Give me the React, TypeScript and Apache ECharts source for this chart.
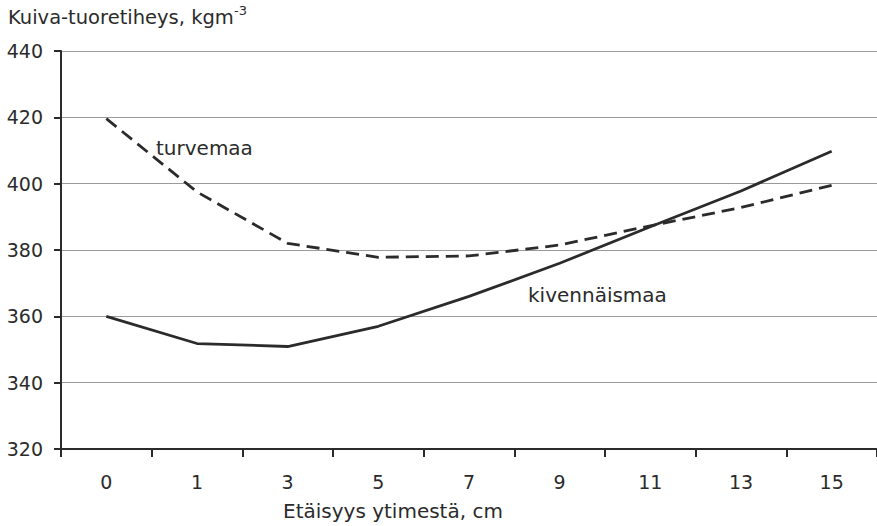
import React, { useEffect, useRef } from "react";
import * as echarts from "echarts";

const categories = ["0", "1", "3", "5", "7", "9", "11", "13", "15"];
const turvemaa = [419.6, 397.5, 382, 377.8, 378.2, 381.5, 387.3, 392.8, 399.5];
const kivennaismaa = [360, 351.8, 350.9, 357, 366, 376, 387, 397.8, 409.8];
const yMin = 320;
const yMax = 440;
const yStep = 20;

const FONT = "'DejaVu Sans', sans-serif";
const FS = 19;
const INK = "#2b2b2b";

export default function App() {
  const ref = useRef<HTMLDivElement>(null);
  useEffect(() => {
    if (!ref.current) return;
    const chart = echarts.init(ref.current, undefined, { renderer: "svg" });
    chart.setOption({
      animation: false,
      backgroundColor: "#ffffff",
      grid: { left: 61, top: 51, width: 822, height: 398, containLabel: false },
      xAxis: {
        type: "category",
        data: categories,
        boundaryGap: true,
        axisLine: { show: true, lineStyle: { color: INK, width: 2 } },
        axisTick: { show: true, alignWithLabel: false, length: 8, lineStyle: { color: INK, width: 2 } },
        axisLabel: { color: INK, fontSize: FS, fontFamily: FONT, margin: 23 },
        splitLine: { show: false },
      },
      yAxis: {
        type: "value",
        min: yMin,
        max: yMax,
        interval: yStep,
        axisLine: { show: true, lineStyle: { color: INK, width: 2 } },
        axisTick: { show: true, length: 7, lineStyle: { color: INK, width: 2 } },
        axisLabel: { color: INK, fontSize: FS, fontFamily: FONT, margin: 18 },
        splitLine: { show: true, lineStyle: { color: "#9a9a9a", width: 1 } },
      },
      series: [
        {
          name: "turvemaa",
          type: "line",
          data: turvemaa,
          symbol: "none",
          lineStyle: { color: INK, width: 2.8, type: [13, 7] },
        },
        {
          name: "kivennäismaa",
          type: "line",
          data: kivennaismaa,
          symbol: "none",
          lineStyle: { color: INK, width: 2.8 },
        },
      ],
      graphic: [
        {
          type: "text",
          left: 8,
          top: 7,
          style: { text: "Kuiva-tuoretiheys, kgm", fill: INK, fontSize: 19.5, fontFamily: FONT },
        },
        {
          type: "text",
          left: 234,
          top: 4,
          style: { text: "-3", fill: INK, fontSize: 13, fontFamily: FONT },
        },
        {
          type: "text",
          left: 156,
          top: 138,
          style: { text: "turvemaa", fill: INK, fontSize: 20, fontFamily: FONT },
        },
        {
          type: "text",
          left: 528,
          top: 285,
          style: { text: "kivennäismaa", fill: INK, fontSize: 20, fontFamily: FONT },
        },
        {
          type: "text",
          left: 283,
          top: 501,
          style: { text: "Etäisyys ytimestä, cm", fill: INK, fontSize: 20, fontFamily: FONT },
        },
      ],
    });
    return () => chart.dispose();
  }, []);
  return (
    <div
      ref={ref}
      style={{ position: "fixed", left: 0, top: 0, width: 877, height: 526, background: "#fff" }}
    />
  );
}
